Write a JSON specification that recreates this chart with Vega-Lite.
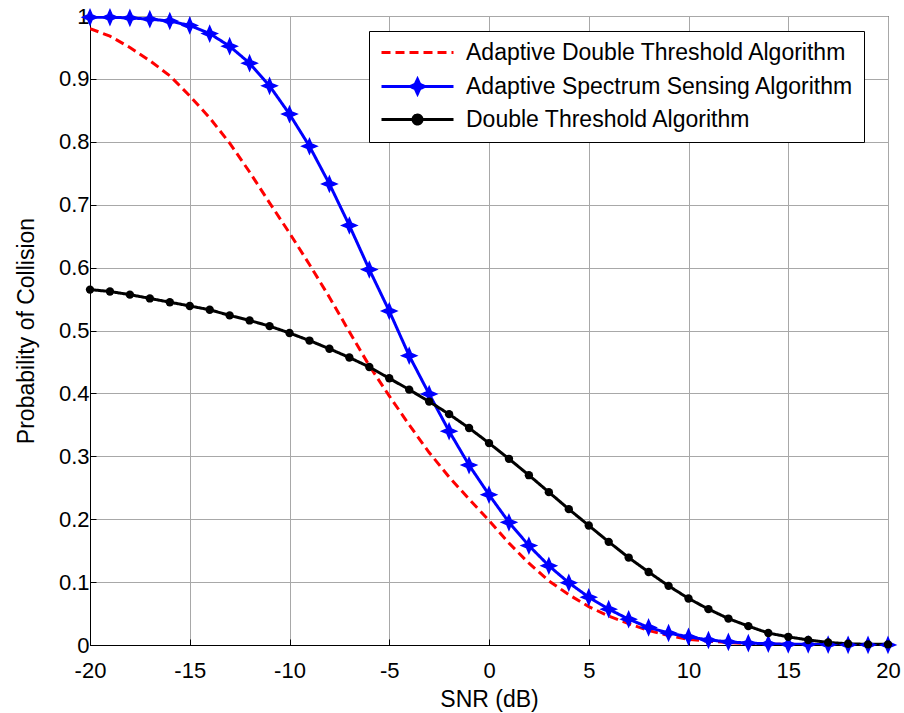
{
  "$schema": "https://vega.github.io/schema/vega-lite/v6.json",
  "autosize": {"type": "none"},
  "padding": {"left": 90, "top": 16, "right": 16, "bottom": 68},
  "width": 798,
  "height": 629,
  "background": "white",
  "config": {
    "font": "Liberation Sans",
    "view": {"stroke": "black", "strokeWidth": 1},
    "axis": {
      "labelFont": "Liberation Sans",
      "labelFontSize": 22,
      "labelColor": "black",
      "labelFlush": false,
      "titleFont": "Liberation Sans",
      "titleFontSize": 23,
      "titleFontWeight": "normal",
      "titleColor": "black",
      "domainColor": "black",
      "domainWidth": 1,
      "tickColor": "black",
      "tickSize": -6,
      "tickWidth": 1,
      "gridColor": "#a8a8a8",
      "gridWidth": 1,
      "gridOpacity": 1
    },
    "legend": {
      "labelFont": "Liberation Sans",
      "labelFontSize": 23,
      "labelColor": "black",
      "labelLimit": 600
    }
  },
  "data": {
    "values": [
      {"snr": -20, "p": 0.980, "series": "Adaptive Double Threshold Algorithm"},
      {"snr": -19, "p": 0.968, "series": "Adaptive Double Threshold Algorithm"},
      {"snr": -18, "p": 0.950, "series": "Adaptive Double Threshold Algorithm"},
      {"snr": -17, "p": 0.929, "series": "Adaptive Double Threshold Algorithm"},
      {"snr": -16, "p": 0.905, "series": "Adaptive Double Threshold Algorithm"},
      {"snr": -15, "p": 0.873, "series": "Adaptive Double Threshold Algorithm"},
      {"snr": -14, "p": 0.838, "series": "Adaptive Double Threshold Algorithm"},
      {"snr": -13, "p": 0.798, "series": "Adaptive Double Threshold Algorithm"},
      {"snr": -12, "p": 0.752, "series": "Adaptive Double Threshold Algorithm"},
      {"snr": -11, "p": 0.703, "series": "Adaptive Double Threshold Algorithm"},
      {"snr": -10, "p": 0.655, "series": "Adaptive Double Threshold Algorithm"},
      {"snr": -9, "p": 0.605, "series": "Adaptive Double Threshold Algorithm"},
      {"snr": -8, "p": 0.553, "series": "Adaptive Double Threshold Algorithm"},
      {"snr": -7, "p": 0.498, "series": "Adaptive Double Threshold Algorithm"},
      {"snr": -6, "p": 0.444, "series": "Adaptive Double Threshold Algorithm"},
      {"snr": -5, "p": 0.396, "series": "Adaptive Double Threshold Algorithm"},
      {"snr": -4, "p": 0.350, "series": "Adaptive Double Threshold Algorithm"},
      {"snr": -3, "p": 0.306, "series": "Adaptive Double Threshold Algorithm"},
      {"snr": -2, "p": 0.267, "series": "Adaptive Double Threshold Algorithm"},
      {"snr": -1, "p": 0.232, "series": "Adaptive Double Threshold Algorithm"},
      {"snr": 0, "p": 0.198, "series": "Adaptive Double Threshold Algorithm"},
      {"snr": 1, "p": 0.162, "series": "Adaptive Double Threshold Algorithm"},
      {"snr": 2, "p": 0.130, "series": "Adaptive Double Threshold Algorithm"},
      {"snr": 3, "p": 0.102, "series": "Adaptive Double Threshold Algorithm"},
      {"snr": 4, "p": 0.080, "series": "Adaptive Double Threshold Algorithm"},
      {"snr": 5, "p": 0.061, "series": "Adaptive Double Threshold Algorithm"},
      {"snr": 6, "p": 0.046, "series": "Adaptive Double Threshold Algorithm"},
      {"snr": 7, "p": 0.034, "series": "Adaptive Double Threshold Algorithm"},
      {"snr": 8, "p": 0.023, "series": "Adaptive Double Threshold Algorithm"},
      {"snr": 9, "p": 0.015, "series": "Adaptive Double Threshold Algorithm"},
      {"snr": 10, "p": 0.009, "series": "Adaptive Double Threshold Algorithm"},
      {"snr": 11, "p": 0.006, "series": "Adaptive Double Threshold Algorithm"},
      {"snr": 12, "p": 0.004, "series": "Adaptive Double Threshold Algorithm"},
      {"snr": 13, "p": 0.002, "series": "Adaptive Double Threshold Algorithm"},
      {"snr": 14, "p": 0.001, "series": "Adaptive Double Threshold Algorithm"},
      {"snr": 15, "p": 0.001, "series": "Adaptive Double Threshold Algorithm"},
      {"snr": 16, "p": 0.0005, "series": "Adaptive Double Threshold Algorithm"},
      {"snr": 17, "p": 0.0003, "series": "Adaptive Double Threshold Algorithm"},
      {"snr": 18, "p": 0.0002, "series": "Adaptive Double Threshold Algorithm"},
      {"snr": 19, "p": 0.0001, "series": "Adaptive Double Threshold Algorithm"},
      {"snr": 20, "p": 0.0001, "series": "Adaptive Double Threshold Algorithm"},

      {"snr": -20, "p": 0.998, "series": "Adaptive Spectrum Sensing Algorithm"},
      {"snr": -19, "p": 0.998, "series": "Adaptive Spectrum Sensing Algorithm"},
      {"snr": -18, "p": 0.997, "series": "Adaptive Spectrum Sensing Algorithm"},
      {"snr": -17, "p": 0.995, "series": "Adaptive Spectrum Sensing Algorithm"},
      {"snr": -16, "p": 0.992, "series": "Adaptive Spectrum Sensing Algorithm"},
      {"snr": -15, "p": 0.985, "series": "Adaptive Spectrum Sensing Algorithm"},
      {"snr": -14, "p": 0.972, "series": "Adaptive Spectrum Sensing Algorithm"},
      {"snr": -13, "p": 0.952, "series": "Adaptive Spectrum Sensing Algorithm"},
      {"snr": -12, "p": 0.925, "series": "Adaptive Spectrum Sensing Algorithm"},
      {"snr": -11, "p": 0.889, "series": "Adaptive Spectrum Sensing Algorithm"},
      {"snr": -10, "p": 0.844, "series": "Adaptive Spectrum Sensing Algorithm"},
      {"snr": -9, "p": 0.793, "series": "Adaptive Spectrum Sensing Algorithm"},
      {"snr": -8, "p": 0.733, "series": "Adaptive Spectrum Sensing Algorithm"},
      {"snr": -7, "p": 0.667, "series": "Adaptive Spectrum Sensing Algorithm"},
      {"snr": -6, "p": 0.597, "series": "Adaptive Spectrum Sensing Algorithm"},
      {"snr": -5, "p": 0.531, "series": "Adaptive Spectrum Sensing Algorithm"},
      {"snr": -4, "p": 0.460, "series": "Adaptive Spectrum Sensing Algorithm"},
      {"snr": -3, "p": 0.399, "series": "Adaptive Spectrum Sensing Algorithm"},
      {"snr": -2, "p": 0.340, "series": "Adaptive Spectrum Sensing Algorithm"},
      {"snr": -1, "p": 0.286, "series": "Adaptive Spectrum Sensing Algorithm"},
      {"snr": 0, "p": 0.239, "series": "Adaptive Spectrum Sensing Algorithm"},
      {"snr": 1, "p": 0.195, "series": "Adaptive Spectrum Sensing Algorithm"},
      {"snr": 2, "p": 0.158, "series": "Adaptive Spectrum Sensing Algorithm"},
      {"snr": 3, "p": 0.126, "series": "Adaptive Spectrum Sensing Algorithm"},
      {"snr": 4, "p": 0.099, "series": "Adaptive Spectrum Sensing Algorithm"},
      {"snr": 5, "p": 0.076, "series": "Adaptive Spectrum Sensing Algorithm"},
      {"snr": 6, "p": 0.057, "series": "Adaptive Spectrum Sensing Algorithm"},
      {"snr": 7, "p": 0.041, "series": "Adaptive Spectrum Sensing Algorithm"},
      {"snr": 8, "p": 0.028, "series": "Adaptive Spectrum Sensing Algorithm"},
      {"snr": 9, "p": 0.019, "series": "Adaptive Spectrum Sensing Algorithm"},
      {"snr": 10, "p": 0.013, "series": "Adaptive Spectrum Sensing Algorithm"},
      {"snr": 11, "p": 0.008, "series": "Adaptive Spectrum Sensing Algorithm"},
      {"snr": 12, "p": 0.005, "series": "Adaptive Spectrum Sensing Algorithm"},
      {"snr": 13, "p": 0.003, "series": "Adaptive Spectrum Sensing Algorithm"},
      {"snr": 14, "p": 0.002, "series": "Adaptive Spectrum Sensing Algorithm"},
      {"snr": 15, "p": 0.001, "series": "Adaptive Spectrum Sensing Algorithm"},
      {"snr": 16, "p": 0.001, "series": "Adaptive Spectrum Sensing Algorithm"},
      {"snr": 17, "p": 0.0005, "series": "Adaptive Spectrum Sensing Algorithm"},
      {"snr": 18, "p": 0.0003, "series": "Adaptive Spectrum Sensing Algorithm"},
      {"snr": 19, "p": 0.0002, "series": "Adaptive Spectrum Sensing Algorithm"},
      {"snr": 20, "p": 0.0001, "series": "Adaptive Spectrum Sensing Algorithm"},

      {"snr": -20, "p": 0.565, "series": "Double Threshold Algorithm"},
      {"snr": -19, "p": 0.562, "series": "Double Threshold Algorithm"},
      {"snr": -18, "p": 0.557, "series": "Double Threshold Algorithm"},
      {"snr": -17, "p": 0.551, "series": "Double Threshold Algorithm"},
      {"snr": -16, "p": 0.545, "series": "Double Threshold Algorithm"},
      {"snr": -15, "p": 0.539, "series": "Double Threshold Algorithm"},
      {"snr": -14, "p": 0.533, "series": "Double Threshold Algorithm"},
      {"snr": -13, "p": 0.524, "series": "Double Threshold Algorithm"},
      {"snr": -12, "p": 0.516, "series": "Double Threshold Algorithm"},
      {"snr": -11, "p": 0.507, "series": "Double Threshold Algorithm"},
      {"snr": -10, "p": 0.496, "series": "Double Threshold Algorithm"},
      {"snr": -9, "p": 0.484, "series": "Double Threshold Algorithm"},
      {"snr": -8, "p": 0.471, "series": "Double Threshold Algorithm"},
      {"snr": -7, "p": 0.457, "series": "Double Threshold Algorithm"},
      {"snr": -6, "p": 0.442, "series": "Double Threshold Algorithm"},
      {"snr": -5, "p": 0.424, "series": "Double Threshold Algorithm"},
      {"snr": -4, "p": 0.406, "series": "Double Threshold Algorithm"},
      {"snr": -3, "p": 0.387, "series": "Double Threshold Algorithm"},
      {"snr": -2, "p": 0.367, "series": "Double Threshold Algorithm"},
      {"snr": -1, "p": 0.345, "series": "Double Threshold Algorithm"},
      {"snr": 0, "p": 0.321, "series": "Double Threshold Algorithm"},
      {"snr": 1, "p": 0.296, "series": "Double Threshold Algorithm"},
      {"snr": 2, "p": 0.270, "series": "Double Threshold Algorithm"},
      {"snr": 3, "p": 0.243, "series": "Double Threshold Algorithm"},
      {"snr": 4, "p": 0.216, "series": "Double Threshold Algorithm"},
      {"snr": 5, "p": 0.190, "series": "Double Threshold Algorithm"},
      {"snr": 6, "p": 0.164, "series": "Double Threshold Algorithm"},
      {"snr": 7, "p": 0.139, "series": "Double Threshold Algorithm"},
      {"snr": 8, "p": 0.116, "series": "Double Threshold Algorithm"},
      {"snr": 9, "p": 0.094, "series": "Double Threshold Algorithm"},
      {"snr": 10, "p": 0.074, "series": "Double Threshold Algorithm"},
      {"snr": 11, "p": 0.057, "series": "Double Threshold Algorithm"},
      {"snr": 12, "p": 0.042, "series": "Double Threshold Algorithm"},
      {"snr": 13, "p": 0.030, "series": "Double Threshold Algorithm"},
      {"snr": 14, "p": 0.019, "series": "Double Threshold Algorithm"},
      {"snr": 15, "p": 0.013, "series": "Double Threshold Algorithm"},
      {"snr": 16, "p": 0.008, "series": "Double Threshold Algorithm"},
      {"snr": 17, "p": 0.004, "series": "Double Threshold Algorithm"},
      {"snr": 18, "p": 0.002, "series": "Double Threshold Algorithm"},
      {"snr": 19, "p": 0.001, "series": "Double Threshold Algorithm"},
      {"snr": 20, "p": 0.001, "series": "Double Threshold Algorithm"}
    ]
  },
  "encoding": {
    "x": {
      "field": "snr",
      "type": "quantitative",
      "scale": {"domain": [-20, 20], "nice": false},
      "axis": {
        "title": "SNR (dB)",
        "values": [-20, -15, -10, -5, 0, 5, 10, 15, 20],
        "labelExpr": "'' + datum.value",
        "labelPadding": 21,
        "titlePadding": 7
      }
    },
    "y": {
      "field": "p",
      "type": "quantitative",
      "scale": {"domain": [0, 1], "nice": false},
      "axis": {
        "title": "Probability of Collision",
        "values": [0, 0.1, 0.2, 0.3, 0.4, 0.5, 0.6, 0.7, 0.8, 0.9, 1],
        "format": ".1~f",
        "labelPadding": 7,
        "titlePadding": 20
      }
    }
  },
  "layer": [
    {
      "mark": {"type": "line", "strokeWidth": 3, "clip": true},
      "encoding": {
        "color": {
          "field": "series",
          "type": "nominal",
          "scale": {
            "domain": ["Adaptive Double Threshold Algorithm", "Adaptive Spectrum Sensing Algorithm", "Double Threshold Algorithm"],
            "range": ["#ff0000", "#0000ff", "#000000"]
          },
          "legend": {
            "title": null,
            "orient": "none",
            "legendX": 279,
            "legendY": 15,
            "strokeColor": "black",
            "fillColor": "white",
            "padding": 10,
            "symbolType": "M-4,0H4",
            "symbolSize": 324,
            "symbolStrokeWidth": 3,
            "symbolOffset": 27,
            "labelOffset": 37,
            "rowPadding": 8,
            "encode": {
              "symbols": {
                "update": {
                  "shape": {"signal": "datum.value == 'Adaptive Spectrum Sensing Algorithm' ? 'M-4,0H4M0,-0.8L0.25,-0.25L0.8,0L0.25,0.25L0,0.8L-0.25,0.25L-0.8,0L-0.25,-0.25Z' : (datum.value == 'Double Threshold Algorithm' ? 'M-4,0H4M-0.5,0A0.5,0.5 0 1 1 0.5,0A0.5,0.5 0 1 1 -0.5,0Z' : 'M-4,0H4')"},
                  "fill": {"signal": "datum.value == 'Adaptive Spectrum Sensing Algorithm' ? '#0000ff' : (datum.value == 'Double Threshold Algorithm' ? '#000000' : 'transparent')"}
                }
              }
            }
          }
        },
        "strokeDash": {
          "field": "series",
          "type": "nominal",
          "scale": {
            "domain": ["Adaptive Double Threshold Algorithm", "Adaptive Spectrum Sensing Algorithm", "Double Threshold Algorithm"],
            "range": [[9, 5], [1, 0], [1, 0]]
          },
          "legend": null
        }
      }
    },
    {
      "transform": [{"filter": "datum.series == 'Adaptive Spectrum Sensing Algorithm'"}],
      "mark": {
        "type": "point",
        "shape": "M0,-1L0.3,-0.3L1,0L0.3,0.3L0,1L-0.3,0.3L-1,0L-0.3,-0.3Z",
        "filled": true,
        "color": "#0000ff",
        "stroke": "#0000ff",
        "strokeWidth": 1.5,
        "size": 220,
        "opacity": 1
      }
    },
    {
      "transform": [{"filter": "datum.series == 'Double Threshold Algorithm'"}],
      "mark": {
        "type": "point",
        "shape": "circle",
        "filled": true,
        "color": "#000000",
        "size": 70,
        "opacity": 1
      }
    }
  ]
}
